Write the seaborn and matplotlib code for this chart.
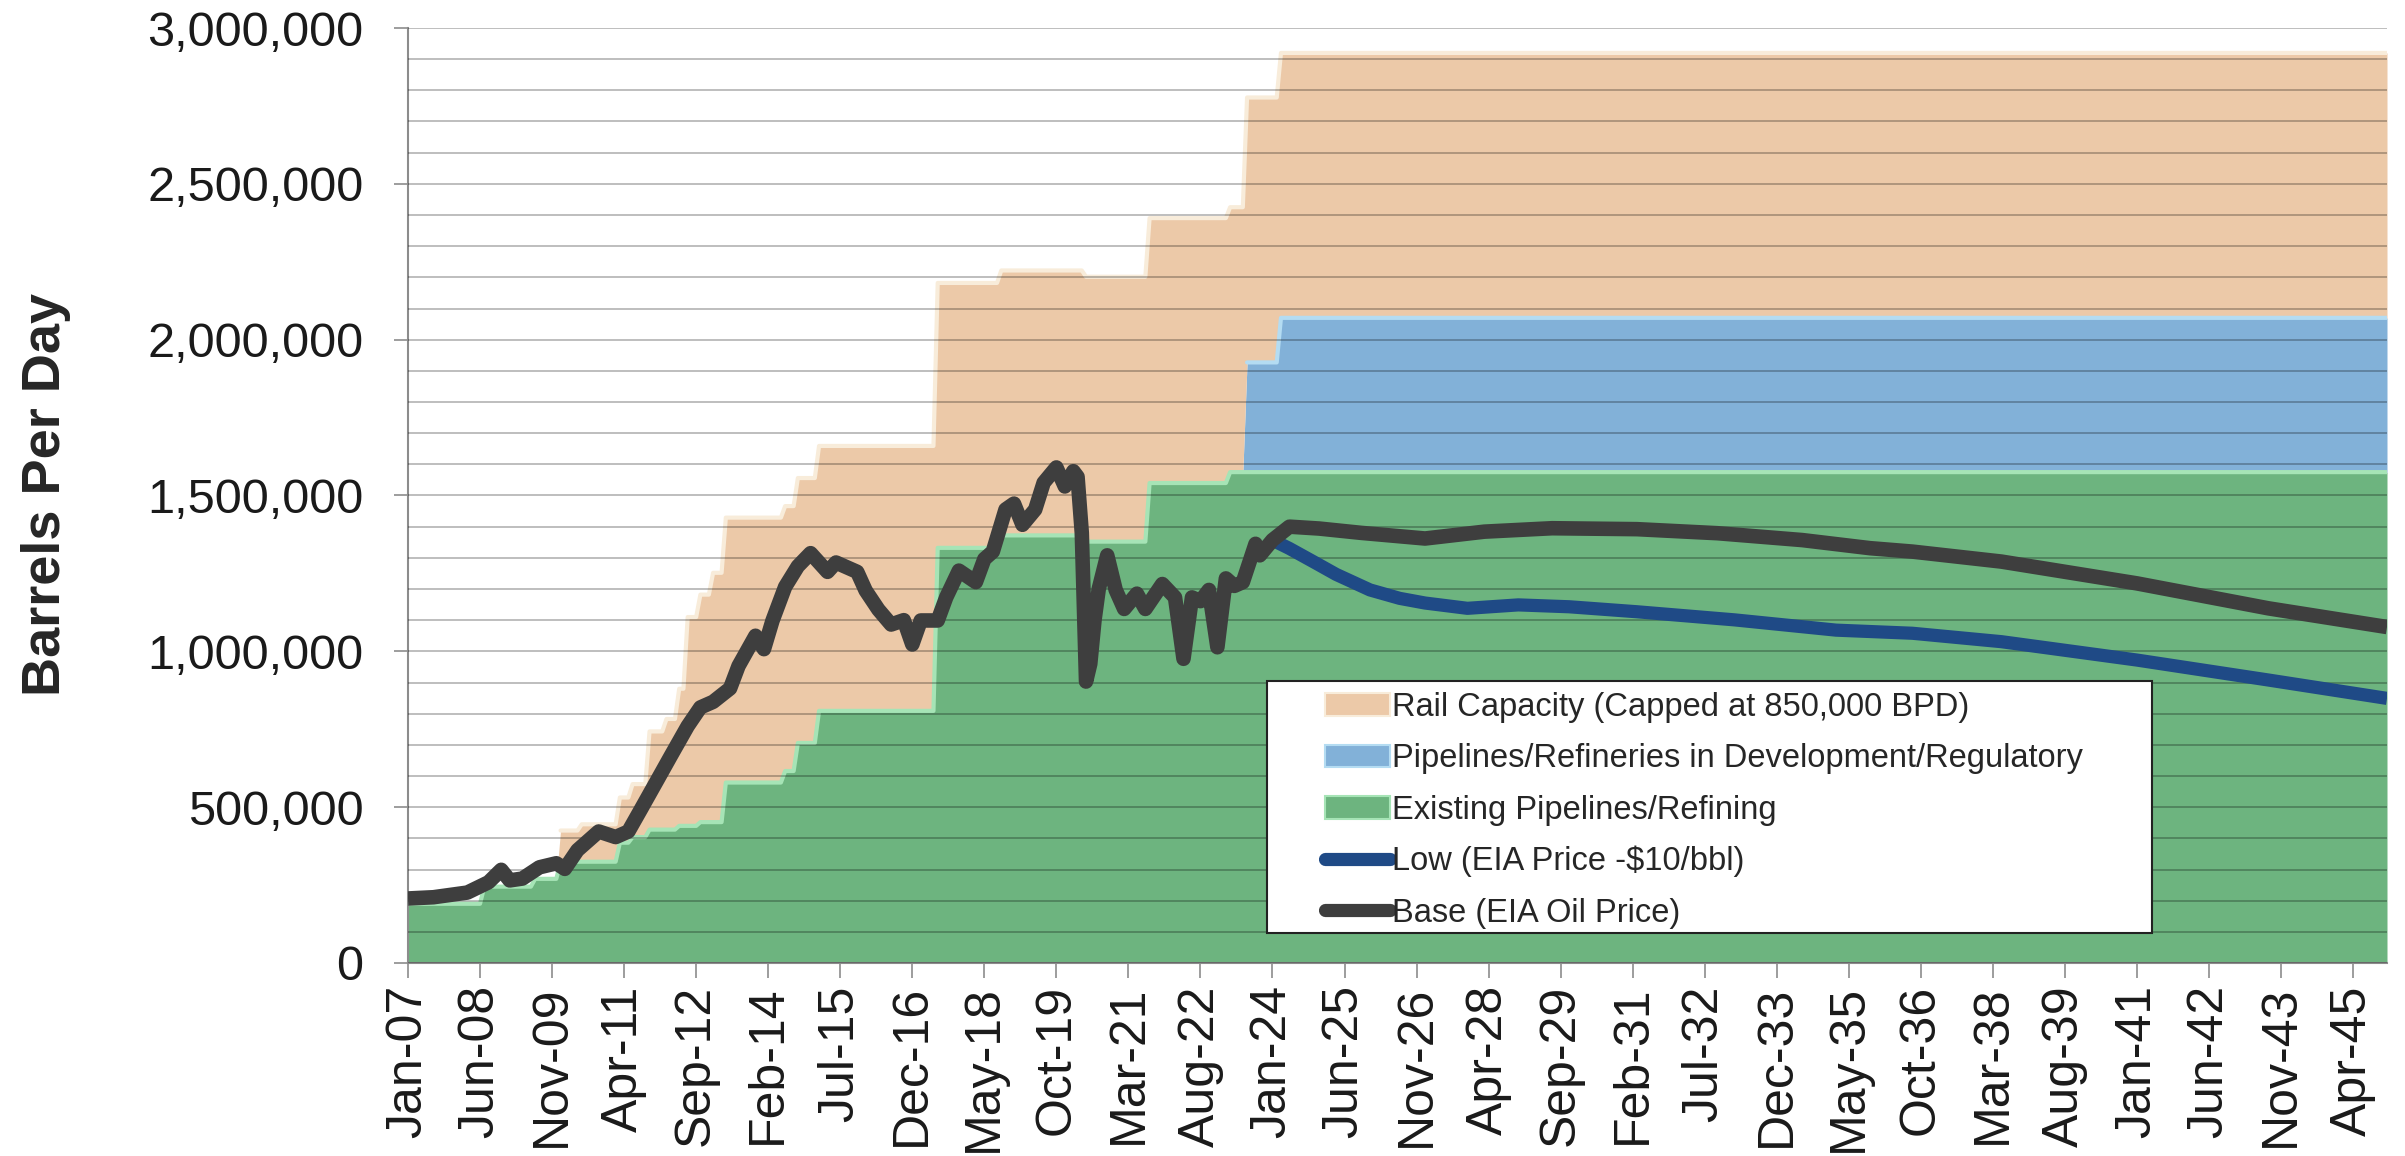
# Bakken takeaway capacity vs production forecast (stacked capacity + two forecast lines)

import numpy as np
import seaborn as sns
import matplotlib.pyplot as plt
from matplotlib.patches import Patch, Rectangle
from matplotlib.lines import Line2D
from matplotlib.ticker import FuncFormatter, MultipleLocator

# months are counted from Jan-07 (0) to Dec-45 (467)
n_months = 468
tick_labels = ["Jan-07", "Jun-08", "Nov-09", "Apr-11", "Sep-12", "Feb-14", "Jul-15",
               "Dec-16", "May-18", "Oct-19", "Mar-21", "Aug-22", "Jan-24", "Jun-25",
               "Nov-26", "Apr-28", "Sep-29", "Feb-31", "Jul-32", "Dec-33", "May-35",
               "Oct-36", "Mar-38", "Aug-39", "Jan-41", "Jun-42", "Nov-43", "Apr-45"]

# capacity layers as steps: month where a level starts, barrels per day
existing_start = [0, 18, 30, 36, 50, 53, 57, 64, 69, 75, 89, 92, 97, 125, 140, 160, 175, 194]
existing_bpd = [190000, 245000, 270000, 325000, 386000, 404000, 428000, 440000, 452000,
                579000, 616000, 706000, 809000, 1332000, 1372000, 1352000, 1540000, 1575000]
development_start = [0, 198, 206]
development_bpd = [0, 352000, 495000]
rail_start = [0, 36, 41, 50, 53, 57, 61, 64, 66, 69, 72, 75]
rail_bpd = [0, 100000, 120000, 145000, 170000, 315000, 355000, 440000, 670000, 730000,
            800000, 850000]

# forecast lines
base_month = [0, 6, 14, 19, 22, 24, 27, 31, 35, 37, 40, 45, 49, 52, 55, 59, 62, 66, 69, 72,
              76, 78, 82, 84, 86, 89, 92, 95, 99, 101, 104, 106, 108, 111, 114, 117, 119,
              121, 125, 127, 130, 134, 136, 138, 141, 143, 145, 148, 150, 153, 155, 157,
              158, 159, 160, 161, 162, 163, 165, 167, 169, 172, 174, 178, 181, 183, 185,
              187, 189, 191, 193, 195, 197, 200, 201, 204, 208, 215, 225, 240, 254, 270,
              290, 309, 329, 345, 355, 376, 408, 439, 467]
base_bpd = [207000, 211000, 226000, 259000, 299000, 265000, 271000, 307000, 320000, 302000,
            362000, 422000, 404000, 422000, 494000, 591000, 664000, 760000, 820000, 838000,
            881000, 953000, 1050000, 1007000, 1098000, 1207000, 1273000, 1315000, 1255000,
            1285000, 1267000, 1255000, 1195000, 1134000, 1086000, 1100000, 1022000,
            1099000, 1099000, 1173000, 1259000, 1222000, 1296000, 1320000, 1455000,
            1474000, 1406000, 1455000, 1541000, 1590000, 1529000, 1578000, 1560000,
            1380000, 903000, 960000, 1100000, 1200000, 1308000, 1197000, 1136000, 1185000,
            1136000, 1216000, 1173000, 976000, 1173000, 1161000, 1197000, 1013000,
            1234000, 1210000, 1222000, 1345000, 1308000, 1357000, 1400000, 1394000,
            1380000, 1362000, 1384000, 1395000, 1392000, 1379000, 1357000, 1331000,
            1320000, 1288000, 1218000, 1138000, 1078000]
low_month = [204, 208, 214, 219, 227, 234, 240, 250, 262, 274, 290, 313, 337, 355, 376, 408,
             439, 467]
low_bpd = [1357000, 1330000, 1285000, 1247000, 1197000, 1170000, 1155000, 1138000, 1149000,
           1143000, 1127000, 1101000, 1068000, 1058000, 1031000, 972000, 908000, 849000]

labels = ["Rail Capacity (Capped at 850,000 BPD)",
          "Pipelines/Refineries in Development/Regulatory",
          "Existing Pipelines/Refining",
          "Low (EIA Price -$10/bbl)",
          "Base (EIA Oil Price)"]

green, green_hi = "#6DB47F", "#A6E4B6"
blue, blue_hi = "#82B1D8", "#B4DCF2"
tan, tan_hi = "#ECC9A8", "#F8ECDA"
base_col = "#3E3E3E"
low_col = "#1F4A86"
axis_grey = "#8C8C8C"


def monthly(starts, levels):
    m = np.arange(n_months)
    idx = np.searchsorted(starts, m, side="right") - 1
    return np.asarray(levels, dtype=float)[idx]


sns.set_theme(style="white")
plt.rcParams["font.family"] = ["Liberation Sans", "DejaVu Sans"]

fig = plt.figure(figsize=(24.05, 11.56), dpi=100)
ax = fig.add_axes([408 / 2405, 1 - 963 / 1156, 1979 / 2405, 935 / 1156])

months = np.arange(n_months)
existing = monthly(existing_start, existing_bpd)
development = monthly(development_start, development_bpd)
rail = monthly(rail_start, rail_bpd)
top_green = existing
top_blue = existing + development
top_rail = top_blue + rail

ax.fill_between(months, 0, top_green, color=green, lw=0, zorder=1)
ax.fill_between(months, top_green, top_blue, color=blue, lw=0, zorder=1)
ax.fill_between(months, top_blue, top_rail, color=tan, lw=0, zorder=1)

# light bevel along the top of each layer
ax.plot(months, np.where(rail > 0, top_rail, np.nan), color=tan_hi, lw=3, zorder=1.3)
ax.plot(months, np.where(development > 0, top_blue, np.nan), color=blue_hi, lw=3, zorder=1.3)
ax.plot(months, top_green, color=green_hi, lw=3, zorder=1.3)

sns.lineplot(x=low_month, y=low_bpd, color=low_col, lw=9.5, ax=ax, estimator=None,
             legend=False, zorder=4, solid_capstyle="butt")
sns.lineplot(x=base_month, y=base_bpd, color=base_col, lw=10.5, ax=ax, estimator=None,
             legend=False, zorder=4.2, solid_capstyle="butt")

ax.set_xlim(0, n_months - 1)
ax.set_ylim(0, 3000000)
ax.set_xticks(np.arange(0, n_months, 17)[:len(tick_labels)])
ax.set_xticklabels(tick_labels, rotation=90)
ax.yaxis.set_major_locator(MultipleLocator(500000))
ax.yaxis.set_minor_locator(MultipleLocator(100000))
ax.yaxis.set_major_formatter(FuncFormatter(lambda v, p: f"{int(v):,}"))
ax.set_xlabel("")
ax.set_ylabel("")

ax.set_axisbelow(False)
ax.grid(axis="y", which="both", color="black", alpha=0.3, lw=1.2)
ax.grid(axis="x", visible=False)

for s in ["top", "right"]:
    ax.spines[s].set_visible(False)
for s in ["left", "bottom"]:
    ax.spines[s].set_color(axis_grey)
    ax.spines[s].set_linewidth(1.5)

ax.tick_params(axis="y", which="major", left=True, length=10, width=1.2, color=axis_grey,
               pad=22, labelsize=35, labelcolor="#1A1A1A")
ax.tick_params(axis="y", which="minor", left=False, length=0)
ax.tick_params(axis="x", bottom=True, length=11, width=1.2, color=axis_grey, pad=5,
               labelsize=36, labelcolor="#1A1A1A")

# legend box
ax.add_patch(Rectangle((0.434, 0.0326), 0.4472, 0.2690, transform=ax.transAxes,
                       facecolor="white", edgecolor="#222222", lw=1.5, zorder=5))
handles = [Patch(facecolor=tan, edgecolor=tan_hi, lw=1.5),
           Patch(facecolor=blue, edgecolor=blue_hi, lw=1.5),
           Patch(facecolor=green, edgecolor=green_hi, lw=1.5),
           Line2D([], [], color=low_col, lw=9.5, solid_capstyle="round"),
           Line2D([], [], color=base_col, lw=9.5, solid_capstyle="round")]
leg = ax.legend(handles, labels, loc="upper left", bbox_to_anchor=(0.4634, 0.2896),
                frameon=False, fontsize=23.5, borderpad=0, borderaxespad=0,
                handlelength=2.0, handletextpad=0.05, labelspacing=0.62)
leg.set_zorder(6)

fig.text(46 / 2405, 1 - 494 / 1156, "Barrels Per Day", rotation=90, ha="center",
         va="center", fontsize=39, fontweight="bold")

fig.savefig("out.png", dpi=100)
